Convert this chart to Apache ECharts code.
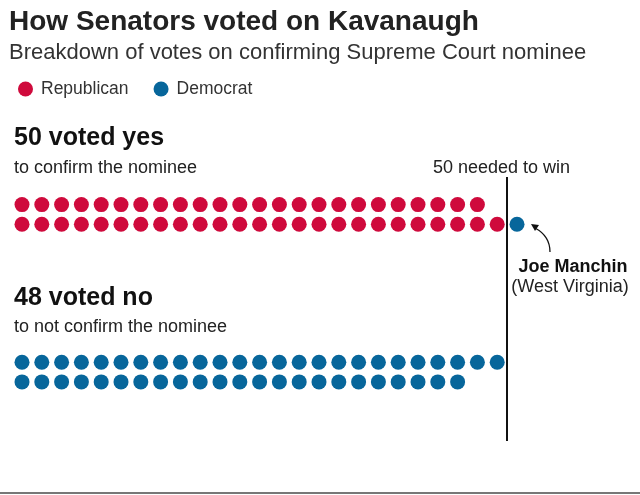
<!DOCTYPE html>
<html>
<head>
<meta charset="utf-8">
<script src="https://cdn.jsdelivr.net/npm/echarts@6/dist/echarts.min.js"></script>
<style>
  html, body { margin: 0; padding: 0; background: #fff; }
  #chart { width: 640px; height: 495px; }
</style>
</head>
<body>
<div id="chart"></div>
<script>
// each row of dots, top to bottom: yes row 1, yes row 2, no row 1, no row 2
var rowNames = ['yes-1', 'yes-2', 'no-1', 'no-2'];
var rowSlot = [0, 1, 8, 9];
var repPerRow = [24, 25, 0, 0];
var demPerRow = [0, 1, 25, 23];
var neededToWin = 50;

var RED = '#cf0a3c';
var BLUE = '#07669b';
var FONT = '"Liberation Sans", Arial, Helvetica, sans-serif';

var repData = [];
var demData = [];
for (var i = 0; i < rowNames.length; i++) {
    for (var j = 0; j < repPerRow[i]; j++) {
        repData.push([j, rowSlot[i]]);
    }
    for (var k = 0; k < demPerRow[i]; k++) {
        demData.push([repPerRow[i] + k, rowSlot[i]]);
    }
}
// the 50th vote sits just right of the line
var lineAt = neededToWin - repPerRow[0] - 1 - 0.5;

var chart = echarts.init(document.getElementById('chart'));

var option = {
    animation: false,
    backgroundColor: '#fff',
    title: [{
        text: 'How Senators voted on Kavanaugh',
        left: 9,
        top: 8,
        padding: 0,
        textStyle: { fontFamily: FONT, fontSize: 28, fontWeight: 'bold', color: '#222' }
    }, {
        text: 'Breakdown of votes on confirming Supreme Court nominee',
        left: 9,
        top: 42,
        padding: 0,
        textStyle: { fontFamily: FONT, fontSize: 22, fontWeight: 'normal', color: '#333' }
    }],
    legend: {
        data: ['Republican', 'Democrat'],
        left: 18,
        top: 80,
        padding: 0,
        icon: 'circle',
        itemWidth: 15,
        itemHeight: 15,
        itemGap: 25,
        itemStyle: { opacity: 1 },
        textStyle: { fontFamily: FONT, fontSize: 17.5, color: '#333', padding: [0, 0, 0, 3] }
    },
    grid: { left: 22, right: 24, top: 177, bottom: 54 },
    xAxis: { type: 'value', min: 0, max: 30, show: false },
    yAxis: { type: 'value', min: -1.4, max: 12, inverse: true, show: false },
    series: [{
        name: 'Republican',
        type: 'scatter',
        symbol: 'circle',
        symbolSize: 15,
        itemStyle: { color: RED, opacity: 1 },
        data: repData,
        markLine: {
            silent: true,
            symbol: 'none',
            label: { show: false },
            lineStyle: { color: '#111', width: 2, type: 'solid' },
            data: [{ xAxis: lineAt }]
        }
    }, {
        name: 'Democrat',
        type: 'scatter',
        symbol: 'circle',
        symbolSize: 15,
        itemStyle: { color: BLUE, opacity: 1 },
        data: demData
    }],
    graphic: [
        { type: 'text', x: 14, y: 126, style: { text: '50 voted yes', font: 'bold 25px ' + FONT, fill: '#111' } },
        { type: 'text', x: 14, y: 159, style: { text: 'to confirm the nominee', font: '18px ' + FONT, fill: '#222' } },
        { type: 'text', x: 433, y: 159, style: { text: '50 needed to win', font: '18px ' + FONT, fill: '#222' } },
        { type: 'text', x: 14, y: 286, style: { text: '48 voted no', font: 'bold 25px ' + FONT, fill: '#111' } },
        { type: 'text', x: 14, y: 318, style: { text: 'to not confirm the nominee', font: '18px ' + FONT, fill: '#222' } },
        { type: 'text', x: 573, y: 258, style: { text: 'Joe Manchin', font: 'bold 18px ' + FONT, fill: '#111', align: 'center' } },
        { type: 'text', x: 570, y: 278, style: { text: '(West Virginia)', font: '18px ' + FONT, fill: '#222', align: 'center' } },
        { type: 'bezierCurve', shape: { x1: 550, y1: 252, cpx1: 550, cpy1: 236, x2: 535, y2: 228 }, style: { stroke: '#111', lineWidth: 1.3, fill: null } },
        { type: 'polygon', shape: { points: [[531, 224], [539, 225], [535, 231]] }, style: { fill: '#111' } },
        { type: 'rect', shape: { x: 0, y: 492, width: 640, height: 2 }, style: { fill: '#777' } }
    ]
};

chart.setOption(option);
</script>
</body>
</html>
